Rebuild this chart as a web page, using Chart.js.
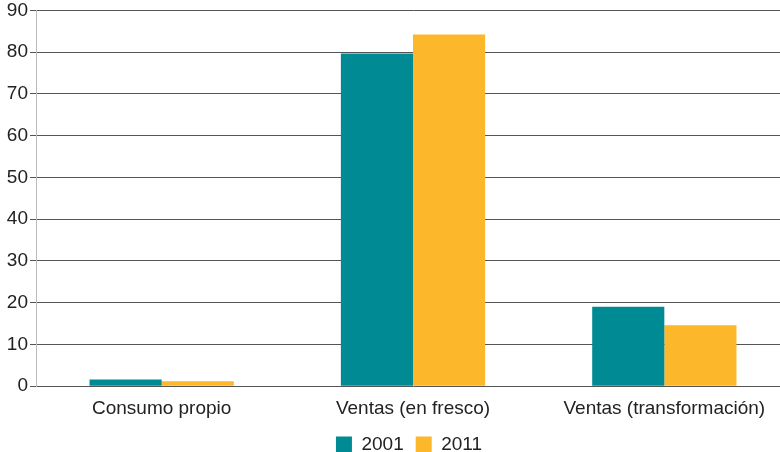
<!DOCTYPE html>
<html>
<head>
<meta charset="utf-8">
<script src="https://cdn.jsdelivr.net/npm/chart.js@4"></script>
<style>
  html, body { margin: 0; padding: 0; background: #fff; overflow: hidden; height: 452px; }
  #wrap { width: 790px; height: 467px; position: relative; top: -3px; }
</style>
</head>
<body>
<div id="wrap"><canvas id="chart"></canvas></div>
<script>
// ===== DATA =====
const categories = ['Consumo propio', 'Ventas (en fresco)', 'Ventas (transformación)'];
const values2001 = [1.6, 79.7, 19.0];
const values2011 = [1.2, 84.2, 14.6];
const seriesLabels = ['2001', '2011'];

// ===== COLORS =====
const COLORS = {
  teal: '#008A93',
  yellow: '#FCB72A',
  grid: '#555555',
  axis: '#BBBBBB',
  text: '#222222',
};

const font = { family: 'Liberation Sans, Arial, sans-serif', size: 19 };

// nudge the legend a little to the right, as in the original layout
const legendShift = {
  id: 'legendShift',
  afterLayout(chart) {
    if (!chart.legend) return;
    chart.legend.left += 14;
    chart.legend.right += 14;
  },
};

new Chart(document.getElementById('chart'), {
  type: 'bar',
  data: {
    labels: categories,
    datasets: [
      { label: seriesLabels[0], data: values2001, backgroundColor: COLORS.teal },
      { label: seriesLabels[1], data: values2011, backgroundColor: COLORS.yellow },
    ],
  },
  options: {
    responsive: true,
    maintainAspectRatio: false,
    animation: false,
    categoryPercentage: 0.574,
    barPercentage: 1,
    layout: { padding: 0 },
    scales: {
      x: {
        grid: { display: false },
        border: { display: false },
        ticks: { color: COLORS.text, font, padding: 3, maxRotation: 0 },
      },
      y: {
        min: 0,
        max: 90,
        afterFit: (s) => { s.width = 36; },
        grid: { color: COLORS.grid, lineWidth: 1, tickLength: 6 },
        border: { display: true, color: COLORS.axis },
        ticks: { stepSize: 10, color: COLORS.text, font, padding: 2 },
      },
    },
    plugins: {
      legend: {
        position: 'bottom',
        labels: {
          color: COLORS.text,
          font,
          boxWidth: 16,
          boxHeight: 16,
          padding: 12,
        },
      },
      tooltip: { enabled: false },
    },
  },
  plugins: [legendShift],
});
</script>
</body>
</html>
